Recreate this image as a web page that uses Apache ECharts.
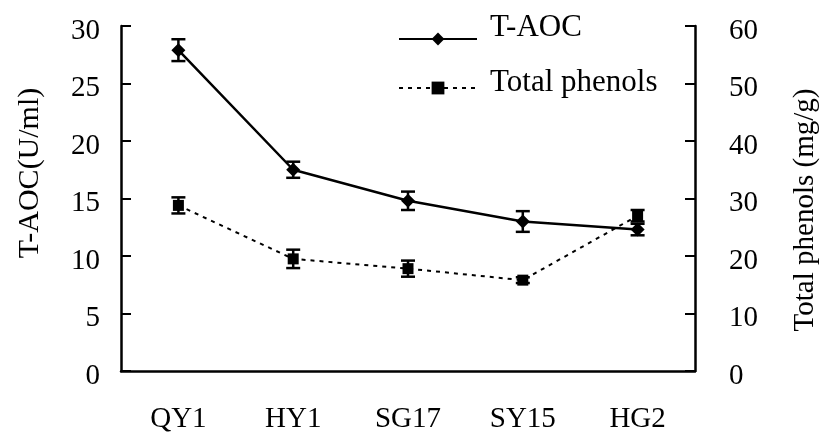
<!DOCTYPE html>
<html><head><meta charset="utf-8">
<script src="https://cdn.jsdelivr.net/npm/echarts@6/dist/echarts.min.js"></script>
<style>html,body{margin:0;padding:0;background:#fff}#c{width:822px;height:436px}</style>
</head><body><div id="c"></div>
<script>
const categories = ['QY1', 'HY1', 'SG17', 'SY15', 'HG2'];
const taoc = [27.9, 17.5, 14.8, 13.0, 12.3];
const taocErr = [0.95, 0.7, 0.8, 0.9, 0.5];
const phenols = [28.8, 19.5, 17.8, 15.8, 27.0];
const phenolsErr = [1.4, 1.6, 1.4, 0.5, 1.0];
const leftTicks = [0, 5, 10, 15, 20, 25, 30];
const rightTicks = [0, 10, 20, 30, 40, 50, 60];

const FONT = '"Liberation Serif", "Times New Roman", serif';
const chart = echarts.init(document.getElementById('c'));

function errData(vals, errs) {
  return vals.map((v, i) => [i, v - errs[i], v + errs[i]]);
}
function errRender(params, api) {
  const x = api.value(0);
  const lo = api.coord([x, api.value(1)]);
  const hi = api.coord([x, api.value(2)]);
  const w = 7;
  const st = { stroke: '#000', lineWidth: 2.5 };
  return {
    type: 'group',
    children: [
      { type: 'line', shape: { x1: lo[0], y1: lo[1], x2: hi[0], y2: hi[1] }, style: st },
      { type: 'line', shape: { x1: lo[0] - w, y1: lo[1], x2: lo[0] + w, y2: lo[1] }, style: st },
      { type: 'line', shape: { x1: hi[0] - w, y1: hi[1], x2: hi[0] + w, y2: hi[1] }, style: st }
    ]
  };
}

const tickRich = { t: { fontFamily: FONT, fontSize: 29, color: '#000', padding: [10, 0, 0, 0] } };
const tickLabel = { fontFamily: FONT, fontSize: 29, color: '#000', formatter: '{t|{value}}', rich: tickRich };

chart.setOption({
  animation: false,
  backgroundColor: '#fff',
  textStyle: { fontFamily: FONT, color: '#000' },
  grid: { left: 121, right: 127, top: 26, bottom: 65, outerBoundsMode: 'none', containLabel: false },
  legend: [
    {
      left: 398, top: 12.5, padding: 0,
      itemWidth: 78, itemHeight: 16,
      formatter: '{a|{name}}',
      textStyle: { fontFamily: FONT, fontSize: 31, color: '#000',
        rich: { a: { fontFamily: FONT, fontSize: 31, color: '#000', padding: [0, 0, 22, 8] } } },
      data: ['T-AOC']
    },
    {
      left: 398, top: 67.5, padding: 0,
      itemWidth: 78, itemHeight: 16,
      formatter: '{a|{name}}',
      textStyle: { fontFamily: FONT, fontSize: 31, color: '#000',
        rich: { a: { fontFamily: FONT, fontSize: 31, color: '#000', padding: [0, 0, 10, 8] } } },
      data: ['Total phenols']
    }
  ],
  xAxis: {
    type: 'category',
    data: categories,
    boundaryGap: true,
    axisLine: { lineStyle: { color: '#000', width: 2.5 } },
    axisTick: { inside: true, length: 10, lineStyle: { color: '#000', width: 2 } },
    axisLabel: { fontFamily: FONT, fontSize: 29, color: '#000', margin: 34 }
  },
  yAxis: [
    {
      type: 'value', min: leftTicks[0], max: leftTicks[leftTicks.length - 1], interval: 5,
      name: 'T-AOC(U/ml)', nameLocation: 'middle', nameGap: 76, nameRotate: 90,
      nameTextStyle: { fontFamily: FONT, fontSize: 30, color: '#000', padding: [0, 0, 0, 51] },
      axisLine: { show: true, lineStyle: { color: '#000', width: 2.5 } },
      axisTick: { show: true, inside: true, length: 10, lineStyle: { color: '#000', width: 2 } },
      axisLabel: Object.assign({ margin: 21 }, tickLabel),
      splitLine: { show: false }
    },
    {
      type: 'value', min: rightTicks[0], max: rightTicks[rightTicks.length - 1], interval: 10,
      position: 'right',
      name: 'Total phenols (mg/g)', nameLocation: 'middle', nameGap: 96, nameRotate: 90,
      nameTextStyle: { fontFamily: FONT, fontSize: 29, color: '#000', padding: [0, 23, 0, 0] },
      axisLine: { show: true, lineStyle: { color: '#000', width: 2.5 } },
      axisTick: { show: true, inside: true, length: 10, lineStyle: { color: '#000', width: 2 } },
      axisLabel: Object.assign({ margin: 34 }, tickLabel),
      splitLine: { show: false }
    }
  ],
  series: [
    {
      name: 'T-AOC', type: 'line', yAxisIndex: 0, data: taoc,
      symbol: 'diamond', symbolSize: 14,
      itemStyle: { color: '#000' },
      lineStyle: { color: '#000', width: 2.5 },
      z: 3
    },
    {
      name: 'Total phenols', type: 'line', yAxisIndex: 1, data: phenols,
      symbol: 'rect', symbolSize: 11,
      itemStyle: { color: '#000' },
      lineStyle: { color: '#000', width: 2, type: [4, 5] },
      z: 3
    },
    {
      type: 'custom', yAxisIndex: 0, data: errData(taoc, taocErr),
      renderItem: errRender, z: 4, silent: true
    },
    {
      type: 'custom', yAxisIndex: 1, data: errData(phenols, phenolsErr),
      renderItem: errRender, z: 4, silent: true
    }
  ]
});
</script></body></html>
